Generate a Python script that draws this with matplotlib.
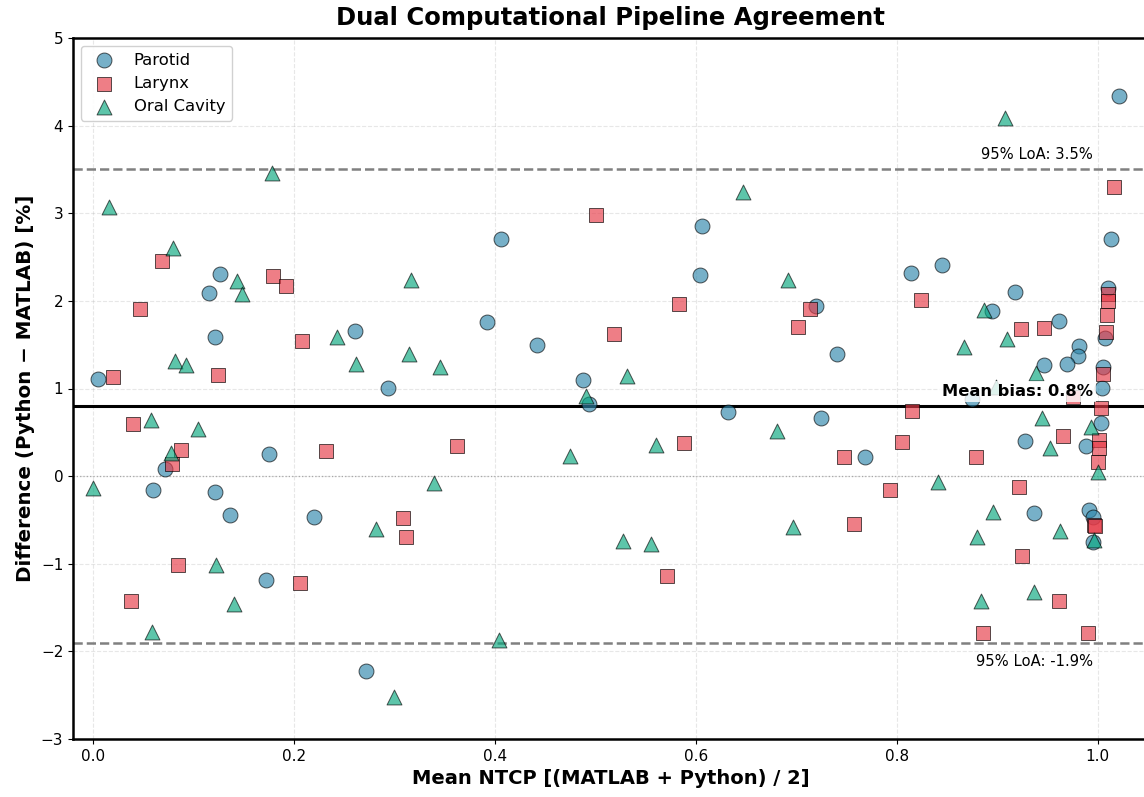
import numpy as np
import matplotlib.pyplot as plt

# Bland-Altman style agreement
parotid_x = [0.005, 0.060, 0.072, 0.115, 0.121, 0.121, 0.126, 0.136, 0.172, 0.175,
             0.220, 0.261, 0.272, 0.294, 0.392, 0.406, 0.442, 0.488, 0.494, 0.606,
             0.604, 0.632, 0.725, 0.720, 0.740, 0.768, 0.814, 0.845, 0.918, 0.895,
             0.961, 0.981, 0.980, 0.969, 0.946, 1.010, 1.007, 1.005, 1.004, 0.875,
             1.003, 0.988, 0.928, 0.991, 0.995, 0.995, 0.937, 1.021, 1.013]
parotid_y = [1.11, -0.16, 0.08, 2.09, 1.59, -0.18, 2.31, -0.44, -1.19, 0.25,
             -0.47, 1.66, -2.22, 1.01, 1.76, 2.71, 1.50, 1.10, 0.82, 2.85,
             2.30, 0.73, 0.66, 1.94, 1.39, 0.22, 2.32, 2.41, 2.10, 1.89,
             1.77, 1.48, 1.37, 1.28, 1.27, 2.15, 1.58, 1.25, 1.01, 0.88,
             0.61, 0.34, 0.40, -0.39, -0.47, -0.75, -0.42, 4.34, 2.71]

larynx_x = [0.069, 0.047, 0.179, 0.192, 0.208, 0.020, 0.124, 0.040, 0.087, 0.079,
            0.232, 0.085, 0.038, 0.206, 0.501, 0.518, 0.362, 0.308, 0.311, 0.583,
            0.714, 0.702, 0.588, 0.747, 0.571, 0.757, 0.824, 0.924, 0.946, 0.815,
            0.805, 0.879, 0.965, 0.793, 0.922, 0.975, 1.010, 1.010, 1.009, 1.008,
            1.005, 1.003, 1.001, 1.001, 1.000, 0.996, 0.961, 0.990, 0.925, 0.886,
            0.997, 1.016]
larynx_y = [2.45, 1.91, 2.28, 2.17, 1.54, 1.13, 1.15, 0.59, 0.30, 0.14,
            0.29, -1.01, -1.43, -1.22, 2.98, 1.62, 0.34, -0.48, -0.69, 1.96,
            1.91, 1.70, 0.38, 0.22, -1.14, -0.55, 2.01, 1.68, 1.69, 0.74,
            0.39, 0.22, 0.46, -0.16, -0.12, 0.90, 2.08, 2.00, 1.84, 1.64,
            1.17, 0.78, 0.41, 0.32, 0.16, -0.56, -1.42, -1.79, -0.91, -1.79,
            -0.57, 3.30]

oral_x = [0.016, 0.178, 0.080, 0.143, 0.148, 0.082, 0.092, 0.243, 0.262, 0.058,
          0.104, 0.078, 0.000, 0.059, 0.122, 0.140, 0.282, 0.316, 0.314, 0.345,
          0.491, 0.475, 0.339, 0.404, 0.300, 0.647, 0.692, 0.531, 0.560, 0.681,
          0.527, 0.555, 0.697, 0.887, 0.910, 0.867, 0.939, 0.899, 0.944, 0.952,
          0.993, 1.000, 0.841, 0.896, 0.880, 0.962, 0.996, 0.884, 0.937, 0.908]
oral_y = [3.07, 3.46, 2.60, 2.23, 2.08, 1.31, 1.27, 1.59, 1.28, 0.64,
          0.54, 0.26, -0.13, -1.78, -1.01, -1.46, -0.60, 2.24, 1.39, 1.24,
          0.92, 0.23, -0.08, -1.87, -2.52, 3.24, 2.24, 1.14, 0.35, 0.51,
          -0.74, -0.77, -0.58, 1.90, 1.56, 1.47, 1.18, 1.02, 0.66, 0.32,
          0.56, 0.05, -0.07, -0.41, -0.70, -0.63, -0.73, -1.43, -1.32, 4.09]

mean_bias = 0.8
loa_upper = 3.5
loa_lower = -1.9

fig = plt.figure(figsize=(11.44, 7.97), dpi=100)
ax = fig.add_axes([73 / 1144, 1 - 739 / 797, 1075 / 1144, 701 / 797])

ax.scatter(parotid_x, parotid_y, s=115, marker="o", color="#2E86AB", alpha=0.65,
           edgecolor="black", linewidth=0.7, label="Parotid", zorder=3)
ax.scatter(larynx_x, larynx_y, s=115, marker="s", color="#E63946", alpha=0.65,
           edgecolor="black", linewidth=0.7, label="Larynx", zorder=3)
ax.scatter(oral_x, oral_y, s=115, marker="^", color="#06A77D", alpha=0.65,
           edgecolor="black", linewidth=0.7, label="Oral Cavity", zorder=3)

ax.axhline(mean_bias, color="black", lw=2.2, zorder=2)
ax.axhline(loa_upper, color="gray", ls="--", lw=1.8, zorder=2)
ax.axhline(loa_lower, color="gray", ls="--", lw=1.8, zorder=2)
ax.axhline(0, color="gray", ls=":", lw=0.9, alpha=0.7, zorder=1)

ax.text(0.995, mean_bias + 0.08, f"Mean bias: {mean_bias:.1f}%", ha="right", va="bottom",
        fontsize=11.7, fontweight="bold",
        bbox=dict(facecolor="white", edgecolor="none", alpha=0.8, pad=2), zorder=4)
ax.text(0.995, loa_upper + 0.08, f"95% LoA: {loa_upper:.1f}%", ha="right", va="bottom",
        fontsize=10.6)
ax.text(0.995, loa_lower - 0.13, f"95% LoA: {loa_lower:.1f}%", ha="right", va="top",
        fontsize=10.6)

ax.set_xlim(-0.02, 1.05)
ax.set_ylim(-3, 5)
ax.set_xticks([0.0, 0.2, 0.4, 0.6, 0.8, 1.0])
ax.tick_params(labelsize=11)
ax.set_xlabel("Mean NTCP [(MATLAB + Python) / 2]", fontsize=14, fontweight="bold")
ax.set_ylabel("Difference (Python − MATLAB) [%]", fontsize=14.3, fontweight="bold")
ax.set_title("Dual Computational Pipeline Agreement", fontsize=17.5, fontweight="bold", pad=9)
ax.grid(True, ls="--", alpha=0.3)
for side in ["left", "bottom", "top", "right"]:
    ax.spines[side].set_linewidth(1.8)

ax.legend(loc="upper left", fontsize=11.8, framealpha=0.9)

fig.savefig("out.png", dpi=100)
